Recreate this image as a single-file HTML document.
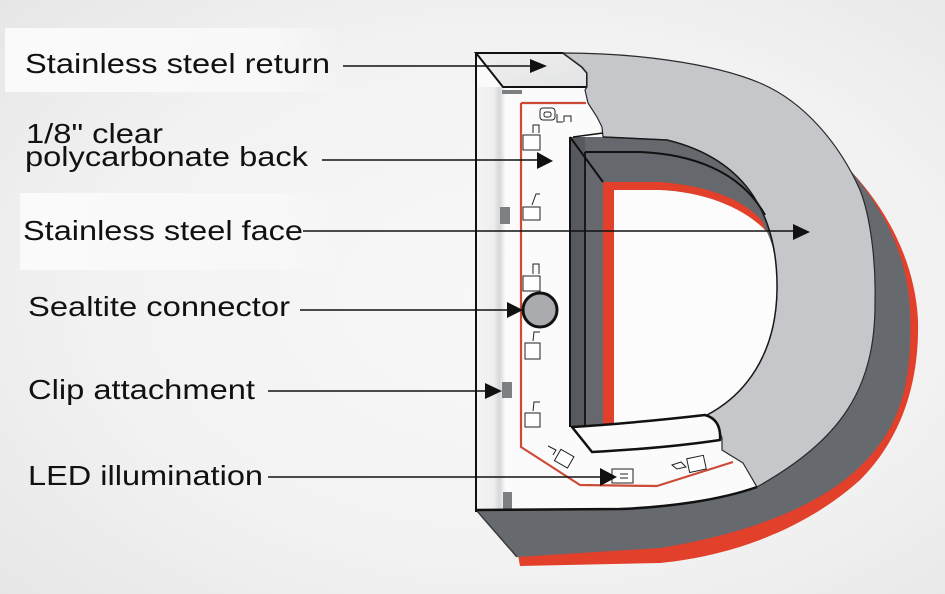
<!DOCTYPE html>
<html><head><meta charset="utf-8"><style>
html,body{margin:0;padding:0;}
body{width:945px;height:594px;overflow:hidden;background:#f1f1f1;}
svg{display:block;}
text{font-family:"Liberation Sans",Arial,sans-serif;font-size:28px;fill:#111;}
</style></head><body>
<svg width="945" height="594" viewBox="0 0 945 594" xmlns="http://www.w3.org/2000/svg">
<defs>
<radialGradient id="bg" cx="0.55" cy="0.5" r="0.75">
<stop offset="0" stop-color="#f8f8f8"/><stop offset="0.6" stop-color="#f2f2f2"/><stop offset="1" stop-color="#e6e6e6"/>
</radialGradient>
<linearGradient id="boxg" x1="0" x2="1" y1="0" y2="0">
<stop offset="0" stop-color="#fafafa"/><stop offset="0.8" stop-color="#f8f8f8"/><stop offset="1" stop-color="#f8f8f8" stop-opacity="0"/>
</linearGradient>
<linearGradient id="wall" x1="0" x2="1" y1="0" y2="0">
<stop offset="0" stop-color="#f4f4f4"/><stop offset="0.6" stop-color="#eeeeee"/><stop offset="0.8" stop-color="#d6d7d8"/><stop offset="1" stop-color="#f6f6f6"/>
</linearGradient>
<linearGradient id="ret" x1="0" x2="1" y1="0" y2="1">
<stop offset="0" stop-color="#f0f0f0"/><stop offset="1" stop-color="#e2e3e4"/>
</linearGradient>
</defs>
<rect width="945" height="594" fill="url(#bg)"/>
<rect x="5" y="28" width="335" height="64" fill="url(#boxg)"/>
<rect x="20" y="193" width="320" height="77" fill="url(#boxg)"/>

<!-- red outer -->
<path d="M845,165 C885,205 915,260 918,320 C920,400 890,450 860,480 C810,525 740,555 660,563 L520,566 L518,555 L600,520 L560,400 L700,250 Z" fill="#e2402b"/>
<!-- dark side -->
<path d="M850,170 C880,205 907,250 910,310 C913,380 900,420 875,450 C840,495 770,530 660,548 L517,557 L477,511 L476,300 Z" fill="#66696d"/>
<path d="M477,511 L517,557" stroke="#3a3c3e" stroke-width="1.5"/>

<!-- white interior -->
<path d="M476,53 L600,53 L600,300 L760,400 L757,487 C720,500 670,507 620,509 L477,510 Z" fill="#fbfbfb"/>
<rect x="477" y="87" width="28" height="423" fill="url(#wall)"/>
<!-- return top -->
<path d="M476,53 L563,53 L582,67 L587,73 L587,87 L503,87 Z" fill="url(#ret)" stroke="#111" stroke-width="2"/>

<!-- face -->
<path d="M563,53 C630,53 710,62 760,83 C805,102 840,145 860,190 C870,215 876,260 875,300 C876,390 840,440 757,487 L743,463 L722,450 L722,438 L717,425 L707,415 C745,395 776,355 777,290 C778,220 750,160 667,140 L603,137 L602,127 L597,117 L588,103 L585,90 L587,87 L587,73 L582,67 Z" fill="#c5c7cb" stroke="#2a2a2a" stroke-width="1.2"/>

<!-- counter -->
<path d="M570,137 L603,137 L667,140 C750,160 778,220 777,290 C776,355 745,395 707,415 C660,420 610,424 573,427 Z" fill="#65686c"/>
<rect x="570" y="137" width="15" height="290" fill="#56595d"/>
<path d="M603,182 L660,182 C710,186 745,200 763,222 L766,232 C745,208 705,192 660,190 L614,190 L614,425 L603,426 Z" fill="#e2402b"/>
<path d="M614,190 L660,190 C705,192 745,208 767,232 C776,252 778,270 777,290 C776,355 745,395 707,415 C670,419 640,422 614,424 Z" fill="#fcfcfc"/>
<path d="M570,137 L603,182" stroke="#111" stroke-width="2"/>
<path d="M585,152 L585,427" stroke="#111" stroke-width="1.8"/>
<path d="M585,152 L640,152 C690,154 740,170 765,215" stroke="#111" stroke-width="2" fill="none"/>
<path d="M570,137 L570,427" stroke="#111" stroke-width="2"/>
<path d="M573,137 L603,133" stroke="#111" stroke-width="1.5"/>
<path d="M603,137 L667,140 C750,160 778,220 777,290 C776,355 745,395 707,415" stroke="#1a1a1a" stroke-width="1.5" fill="none"/>

<!-- ledge -->
<path d="M572,427 C620,424 670,419 705,415 C716,418 721,426 720,440 C680,446 630,450 592,452 Z" fill="#fbfbfb" stroke="#111" stroke-width="2.5" stroke-linejoin="round"/>

<!-- clips -->
<rect x="502" y="90" width="20" height="4" fill="#7d7f82"/>
<rect x="500" y="207" width="10" height="17" fill="#7d7f82"/>
<rect x="502" y="382" width="10" height="16" fill="#7d7f82"/>
<rect x="503" y="492" width="9" height="18" fill="#7d7f82"/>

<!-- LED red strip -->
<path d="M521,103 L586,103 M521,103 L521,447 L580,485 L657,486 L733,462" stroke="#cc4a36" stroke-width="2.2" fill="none" stroke-linejoin="round"/>

<!-- LED modules -->
<g stroke="#222" stroke-width="1" fill="#fff">
<rect x="540" y="108" width="15" height="12" rx="3"/>
<rect x="544" y="112" width="7" height="5" rx="2" fill="none"/>
<path d="M557,114 L557,122 L563,122 M564,122 L564,116 L571,116 L571,122" fill="none"/>
<rect x="523" y="135" width="17" height="15"/><path d="M533,133 L533,125 L539,125 L539,133" fill="none"/>
<rect x="523" y="207" width="17" height="13"/><path d="M532,205 L536,194 L540,194" fill="none"/>
<rect x="523" y="276" width="17" height="15"/><path d="M533,274 L533,264 L539,264 L539,274" fill="none"/>
<rect x="525" y="343" width="15" height="16"/><path d="M533,341 L534,332 L540,332" fill="none"/>
<rect x="525" y="413" width="15" height="14"/><path d="M533,411 L534,402 L540,402" fill="none"/>
<rect x="557" y="452" width="15" height="13" transform="rotate(30 564 458)"/><path d="M548,446 L556,450 L553,455" fill="none"/>
<rect x="612" y="469" width="21" height="14"/><path d="M620,474 L628,474 M620,478 L628,478" fill="none"/>
<rect x="688" y="457" width="17" height="14" transform="rotate(-12 696 464)"/><path d="M672,465 L681,462 L686,467 L677,469 Z" fill="none"/>
</g>

<!-- sealtite -->
<circle cx="540" cy="310" r="17" fill="#a9abae" stroke="#111" stroke-width="3"/>

<!-- back plate outlines -->
<path d="M476,53 L476,512" stroke="#111" stroke-width="2"/>
<path d="M476,510 L620,509 C670,507 720,500 757,487" stroke="#111" stroke-width="2.5" fill="none"/>

<!-- arrows -->
<g stroke="#111" stroke-width="1.4">
<line x1="343" y1="66" x2="532" y2="66"/>
<line x1="322" y1="160" x2="538" y2="160"/>
<line x1="303" y1="231" x2="795" y2="231"/>
<line x1="300" y1="310" x2="508" y2="310"/>
<line x1="268" y1="391" x2="487" y2="391"/>
<line x1="268" y1="477" x2="602" y2="477"/>
</g>
<g fill="#111">
<polygon points="530,59 547,66 530,73"/>
<polygon points="537,152 553,161 537,169"/>
<polygon points="793,224 810,232 793,240"/>
<polygon points="507,302 523,310 507,318"/>
<polygon points="485,383 502,391 485,399"/>
<polygon points="600,468 617,477 600,486"/>
</g>

<!-- labels -->
<text x="25" y="73" textLength="305" lengthAdjust="spacingAndGlyphs">Stainless steel return</text>
<text x="26" y="143" textLength="137" lengthAdjust="spacingAndGlyphs">1/8" clear</text>
<text x="25" y="166" textLength="283" lengthAdjust="spacingAndGlyphs">polycarbonate back</text>
<text x="23" y="240" textLength="280" lengthAdjust="spacingAndGlyphs">Stainless steel face</text>
<text x="28" y="316" textLength="262" lengthAdjust="spacingAndGlyphs">Sealtite connector</text>
<text x="28" y="399" textLength="227" lengthAdjust="spacingAndGlyphs">Clip attachment</text>
<text x="28" y="485" textLength="235" lengthAdjust="spacingAndGlyphs">LED illumination</text>
</svg>
</body></html>
